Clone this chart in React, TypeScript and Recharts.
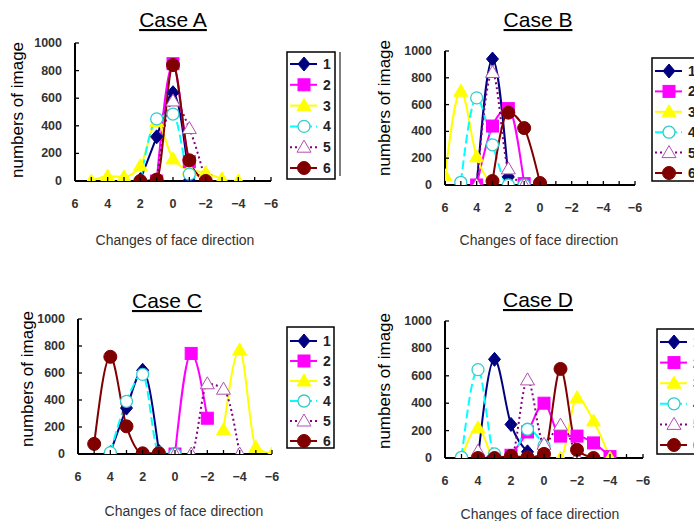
import React from 'react';
import { LineChart, Line, XAxis, YAxis, Legend } from 'recharts';

const SERIES_NAMES = ['1', '2', '3', '4', '5', '6'];
const CASE_TITLES = ['Case A', 'Case B', 'Case C', 'Case D'];
const X_AXIS_TITLE = 'Changes of face direction';
const Y_AXIS_TITLE = 'numbers of image';
const X_TICKS = [6, 5, 4, 3, 2, 1, 0, -1, -2, -3, -4, -5, -6];
const Y_TICKS = [0, 200, 400, 600, 800, 1000];

// Case A
const A1_X = [2, 1, 0, -1];
const A1_Y = [10, 320, 640, 5];
const A2_X = [1, 0, -1, -2];
const A2_Y = [0, 850, 140, 0];
const A3_X = [5, 4, 3, 2, 1, 0, -1, -2, -3, -4];
const A3_Y = [0, 35, 30, 110, 430, 160, 80, 60, 15, 0];
const A4_X = [2, 1, 0, -1, -2];
const A4_Y = [0, 450, 485, 50, 0];
const A5_X = [1, 0, -1, -2];
const A5_Y = [0, 580, 380, 0];
const A6_X = [2, 1, 0, -1, -2];
const A6_Y = [0, 10, 840, 150, 0];

// Case B
const B1_X = [4, 3, 2];
const B1_Y = [0, 940, 60];
const B2_X = [4, 3, 2, 1];
const B2_Y = [0, 440, 570, 10];
const B3_X = [6, 5, 4, 3];
const B3_Y = [70, 700, 210, 0];
const B4_X = [5, 4, 3, 2, 1, 0];
const B4_Y = [20, 650, 300, 0, 0, 0];
const B5_X = [4, 3, 2, 1];
const B5_Y = [0, 840, 120, 0];
const B6_X = [3, 2, 1, 0];
const B6_Y = [30, 540, 425, 15];

// Case C
const C1_X = [4, 3, 2, 1];
const C1_Y = [10, 340, 620, 20];
const C2_X = [0, -1, -2];
const C2_Y = [0, 745, 265];
const C3_X = [-3, -4, -5, -6];
const C3_Y = [180, 770, 50, 0];
const C4_X = [4, 3, 2, 1, 0];
const C4_Y = [10, 390, 590, 10, 0];
const C5_X = [2, 1, 0, -1, -2, -3, -4];
const C5_Y = [0, 0, 0, 0, 520, 480, 0];
const C6_X = [5, 4, 3, 2, 1];
const C6_Y = [75, 720, 205, 5, 5];

// Case D
const D1_X = [4, 3, 2, 1];
const D1_Y = [0, 720, 245, 45];
const D2_X = [2, 1, 0, -1, -2, -3, -4];
const D2_Y = [20, 190, 400, 160, 160, 110, 10];
const D3_X = [5, 4, 3, 2, 1, 0, -1, -2, -3, -4];
const D3_Y = [0, 220, 0, 0, 0, 0, 0, 440, 270, 0];
const D4_X = [5, 4, 3, 2, 1, 0];
const D4_Y = [5, 645, 30, 0, 210, 90];
const D5_X = [4, 3, 2, 1, 0, -1, -2];
const D5_Y = [50, 0, 0, 570, 100, 240, 0];
const D6_X = [4, 3, 2, 1, 0, -1, -2, -3];
const D6_Y = [0, 0, 15, 5, 30, 650, 60, 0];

const toPoints = (xs: number[], ys: number[]) => xs.map((x, i) => ({ x, y: ys[i] }));

const CASE_DATA = [
  [toPoints(A1_X, A1_Y), toPoints(A2_X, A2_Y), toPoints(A3_X, A3_Y), toPoints(A4_X, A4_Y), toPoints(A5_X, A5_Y), toPoints(A6_X, A6_Y)],
  [toPoints(B1_X, B1_Y), toPoints(B2_X, B2_Y), toPoints(B3_X, B3_Y), toPoints(B4_X, B4_Y), toPoints(B5_X, B5_Y), toPoints(B6_X, B6_Y)],
  [toPoints(C1_X, C1_Y), toPoints(C2_X, C2_Y), toPoints(C3_X, C3_Y), toPoints(C4_X, C4_Y), toPoints(C5_X, C5_Y), toPoints(C6_X, C6_Y)],
  [toPoints(D1_X, D1_Y), toPoints(D2_X, D2_Y), toPoints(D3_X, D3_Y), toPoints(D4_X, D4_Y), toPoints(D5_X, D5_Y), toPoints(D6_X, D6_Y)],
];

type Style = { color: string; shape: string; fill: string; mstroke: string; dash?: string };
const STYLES: Style[] = [
  { color: '#000080', shape: 'diamond', fill: '#000080', mstroke: '#000080' },
  { color: '#FF00FF', shape: 'square', fill: '#FF00FF', mstroke: '#FF00FF' },
  { color: '#FFFF00', shape: 'triangle', fill: '#FFFF00', mstroke: '#FFFF00' },
  { color: '#00FFFF', shape: 'circle', fill: '#FFFFFF', mstroke: '#33CCCC', dash: '9 4' },
  { color: '#800080', shape: 'triangle', fill: '#FFFFFF', mstroke: '#B050B0', dash: '2 3' },
  { color: '#800000', shape: 'circle', fill: '#800000', mstroke: '#800000' },
];

function Marker({ cx, cy, s }: { cx: number; cy: number; s: Style }) {
  if (cx == null || cy == null || isNaN(cx) || isNaN(cy)) return null;
  if (s.shape === 'diamond') {
    return <polygon points={`${cx},${cy - 7} ${cx + 6},${cy} ${cx},${cy + 7} ${cx - 6},${cy}`} fill={s.fill} stroke={s.mstroke} strokeWidth={1} />;
  }
  if (s.shape === 'square') {
    return <rect x={cx - 6} y={cy - 6} width={12} height={12} fill={s.fill} stroke={s.mstroke} strokeWidth={1} />;
  }
  if (s.shape === 'triangle') {
    return <polygon points={`${cx},${cy - 7} ${cx + 7},${cy + 5} ${cx - 7},${cy + 5}`} fill={s.fill} stroke={s.mstroke} strokeWidth={1} />;
  }
  const filled = s.fill !== '#FFFFFF';
  return <circle cx={cx} cy={cy} r={filled ? 6.5 : 6} fill={s.fill} stroke={s.mstroke} strokeWidth={filled ? 1 : 1.3} />;
}

function XTick(props: any) {
  const { x, y, payload } = props;
  const v = payload.value;
  return (
    <g>
      <line x1={x} y1={y} x2={x} y2={y - 4} stroke="#000" strokeWidth={1.3} />
      {v % 2 === 0 ? (
        <text x={x} y={y + 23} textAnchor="middle" dominantBaseline="central" fontSize={12.5} fontWeight="bold" fill="#333" fontFamily="Liberation Sans, Arial, sans-serif">
          {v < 0 ? '\u2212' + Math.abs(v) : String(v)}
        </text>
      ) : null}
    </g>
  );
}

function YTick(props: any) {
  const { x, y, payload } = props;
  return (
    <g>
      <line x1={x} y1={y} x2={x + 4} y2={y} stroke="#000" strokeWidth={1.3} />
      <text x={x - 13} y={y} textAnchor="end" dominantBaseline="central" fontSize={12.5} fontWeight="bold" fill="#333" fontFamily="Liberation Sans, Arial, sans-serif">
        {payload.value}
      </text>
    </g>
  );
}

function LegendBox({ w, h, off, gap, extra }: { w: number; h: number; off: number; gap: number; extra: boolean }) {
  return (
    <svg width={w + 12} height={h + 4} style={{ display: 'block', overflow: 'visible' }}>
      <rect x={1} y={1} width={w} height={h} fill="#fff" stroke="#000" strokeWidth={1.5} />
      {extra ? <line x1={w + 6} y1={1} x2={w + 6} y2={h - 2} stroke="#555" strokeWidth={1.5} /> : null}
      {STYLES.map((s, i) => {
        const cy = 1 + off + i * gap;
        return (
          <g key={i}>
            <line x1={4} y1={cy} x2={31} y2={cy} stroke={s.color} strokeWidth={2} strokeDasharray={s.dash} />
            <Marker cx={18} cy={cy} s={s} />
            <text x={37} y={cy} dominantBaseline="central" fontSize={14} fontWeight="bold" fill="#222" fontFamily="Liberation Sans, Arial, sans-serif">
              {SERIES_NAMES[i]}
            </text>
          </g>
        );
      })}
    </svg>
  );
}

const PANELS = [
  { ox: 0, oy: 0, w: 347, h: 260, l: 75, r: 271, t: 43, b: 181, lg: { x: 286, y: 51, w: 48, h: 127, off: 12, gap: 20.8, extra: true },
    title: [173, 27], ylab: [17, 110], xlab: [175, 240] },
  { ox: 347, oy: 0, w: 347, h: 260, l: 445, r: 635, t: 51, b: 185, lg: { x: 651, y: 57, w: 48, h: 123, off: 13, gap: 20.4, extra: false },
    title: [538, 27], ylab: [384, 108], xlab: [539, 240] },
  { ox: 0, oy: 260, w: 347, h: 261, l: 78, r: 272, t: 319, b: 454, lg: { x: 286, y: 326, w: 47, h: 121, off: 14, gap: 20, extra: false },
    title: [167, 308], ylab: [27, 379], xlab: [184, 511] },
  { ox: 347, oy: 260, w: 347, h: 261, l: 445, r: 643, t: 321, b: 458, lg: { x: 656, y: 328, w: 48, h: 125, off: 13, gap: 20.6, extra: false },
    title: [538, 307], ylab: [384, 381], xlab: [540, 514] },
];

function Panel({ p, data }: { p: any; data: { x: number; y: number }[][] }) {
  const margin = { top: p.t - p.oy, right: p.ox + p.w - p.r, bottom: p.oy + p.h - p.b - 30, left: 0 };
  return (
    <div style={{ position: 'absolute', left: p.ox, top: p.oy, width: p.w, height: p.h }}>
      <LineChart width={p.w} height={p.h} margin={margin} style={{ overflow: 'visible' }}>
        <XAxis
          type="number"
          dataKey="x"
          domain={[-6, 6]}
          reversed
          ticks={X_TICKS}
          interval={0}
          tickLine={false}
          tickSize={0}
          tickMargin={0}
          height={30}
          axisLine={{ stroke: '#000', strokeWidth: 2 }}
          tick={(tp: any) => <XTick {...tp} />}
          allowDataOverflow
        />
        <YAxis
          type="number"
          domain={[0, 1000]}
          ticks={Y_TICKS}
          interval={0}
          width={p.l - p.ox}
          tickLine={false}
          tickSize={0}
          tickMargin={0}
          axisLine={{ stroke: '#000', strokeWidth: 2 }}
          tick={(tp: any) => <YTick {...tp} />}
          allowDataOverflow
        />
        <Legend
          layout="vertical"
          align="center"
          verticalAlign="middle"
          wrapperStyle={{ left: p.lg.x - p.ox, top: p.lg.y - p.oy, width: p.lg.w + 12, height: p.lg.h + 4 }}
          content={() => <LegendBox w={p.lg.w} h={p.lg.h} off={p.lg.off} gap={p.lg.gap} extra={p.lg.extra} />}
        />
        {STYLES.map((s, i) => (
          <Line
            key={i}
            name={SERIES_NAMES[i]}
            data={data[i]}
            dataKey="y"
            type="monotone"
            stroke={s.color}
            strokeWidth={2}
            strokeDasharray={s.dash}
            isAnimationActive={false}
            dot={(dp: any) => <Marker key={`d${i}-${dp.index}`} cx={dp.cx} cy={dp.cy} s={s} />}
            activeDot={false}
          />
        ))}
      </LineChart>
    </div>
  );
}

export default function App() {
  return (
    <div style={{ position: 'absolute', left: 0, top: 0, width: 694, height: 521, overflow: 'hidden', background: '#fff', fontFamily: 'Liberation Sans, Arial, sans-serif' }}>
      {PANELS.map((p, k) => (
        <Panel key={k} p={p} data={CASE_DATA[k]} />
      ))}
      <svg width={694} height={521} style={{ position: 'absolute', left: 0, top: 0, pointerEvents: 'none' }}>
        {PANELS.map((p, k) => (
          <g key={k}>
            <text x={p.title[0]} y={p.title[1]} textAnchor="middle" fontSize={21} fill="#000" style={{ textDecoration: 'underline' }}>
              {CASE_TITLES[k]}
            </text>
            <text
              x={p.ylab[0]}
              y={p.ylab[1]}
              textAnchor="middle"
              dominantBaseline="central"
              fontSize={17}
              fill="#000"
              transform={`rotate(-90, ${p.ylab[0]}, ${p.ylab[1]})`}
            >
              {Y_AXIS_TITLE}
            </text>
            <text x={p.xlab[0]} y={p.xlab[1]} textAnchor="middle" dominantBaseline="central" fontSize={14} fill="#333">
              {X_AXIS_TITLE}
            </text>
          </g>
        ))}
      </svg>
    </div>
  );
}
